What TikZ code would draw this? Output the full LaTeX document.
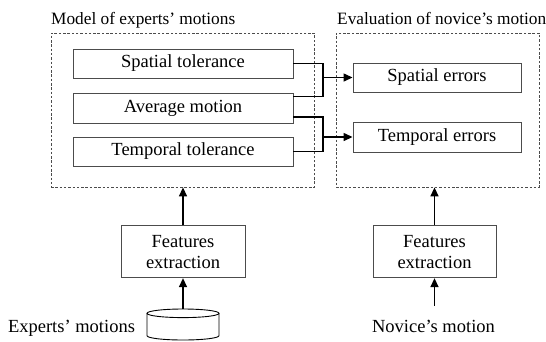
\documentclass[tikz,border=0pt]{standalone}
\usepackage{fontspec}
\setmainfont{Liberation Serif}
\usetikzlibrary{arrows.meta}
\begin{document}
\begin{tikzpicture}[x=1pt,y=1pt,
  box/.style={draw=black!70, line width=0.9pt, inner sep=0pt, font=\fontsize{18.5}{21}\selectfont, align=center},
  dashbox/.style={draw=black!70, line width=0.8pt, dash pattern=on 2.5pt off 1.8pt, inner sep=0pt},
  title/.style={font=\fontsize{17.3}{20}\selectfont, inner sep=0pt, anchor=base west},
  conn/.style={line width=1.4pt, black},
  arr/.style={line width=1.4pt, -{Triangle[length=9pt,width=8pt]}},
  lbl/.style={font=\fontsize{18.5}{21}\selectfont, inner sep=0pt}]
\useasboundingbox (0,0) rectangle (546,-341);
\node[dashbox, minimum width=263.5, minimum height=154] (model) at (182.75,-110) {};
\node[dashbox, minimum width=203, minimum height=154] (eval) at (437.5,-110) {};
\node[title] (mt) at (51,-24) {Model of experts’ motions};
\node[title] (et) at (337,-24) {Evaluation of novice’s motion};
\node[box, minimum width=220, minimum height=29] (st) at (183,-63.5) {Spatial tolerance};
\node[box, minimum width=220, minimum height=30] (am) at (183,-108) {Average motion};
\node[box, minimum width=220, minimum height=29] (tt) at (183,-151.5) {Temporal tolerance};
\node[box, minimum width=168, minimum height=29] (se) at (437,-77.5) {Spatial errors};
\node[box, minimum width=168, minimum height=30] (te) at (437,-137) {Temporal errors};
\node[box, minimum width=124, minimum height=52] (fe1) at (183,-251.7) {Features\\extraction};
\node[box, minimum width=123, minimum height=52] (fe2) at (434.5,-251.7) {Features\\extraction};
\node[lbl, anchor=base] (exp) at (71.5,-332.5) {Experts’ motions};
\node[lbl, anchor=base] (nov) at (433.5,-332) {Novice’s motion};
% database cylinder
\coordinate (db) at (183,-309);
\draw[line width=0.9pt] (147,-313.3) -- (147,-335.7) arc[start angle=180, end angle=360, x radius=36, y radius=4.3] -- (219,-313.3);
\draw[line width=0.9pt] (183,-313.3) ellipse [x radius=36, y radius=4.3];
\coordinate (nv) at (434.5,-305.7);
% arrows
\draw[arr] (fe1.north) -- (fe1.north |- model.south);
\draw[arr] (db) -- (fe1.south);
\draw[arr] (fe2.north) -- (fe2.north |- eval.south);
\draw[arr] (nv) -- (fe2.south);
% connectors
\coordinate (j1) at (323,-77.5);
\coordinate (j2) at (323,-137);
\draw[conn] (st.east) -| (j1) |- ([yshift=-3.7pt]am.north east);
\draw[arr] (j1) -- (se.west);
\draw[conn] ([yshift=6.3pt]am.south east) -| (j2) |- (tt.east);
\draw[arr] (j2) -- (te.west);
\end{tikzpicture}
\end{document}
